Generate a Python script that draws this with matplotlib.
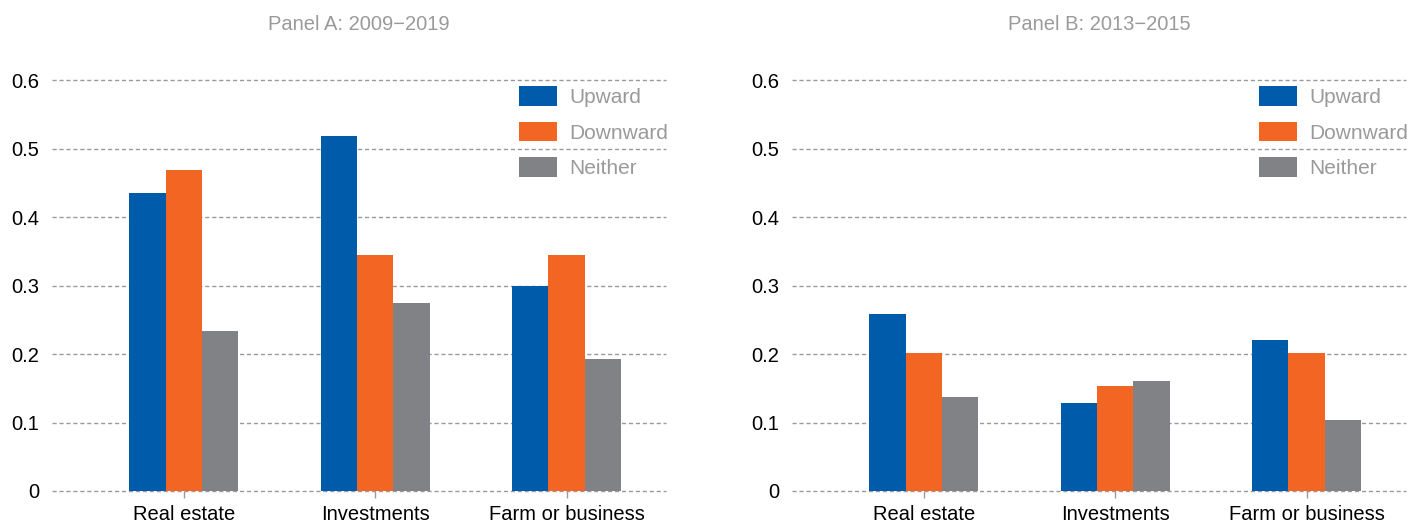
import numpy as np
import matplotlib
matplotlib.use('Agg')
import matplotlib.pyplot as plt

categories = ['Real estate', 'Investments', 'Farm or business']
series = ['Upward', 'Downward', 'Neither']
titles = ['Panel A: 2009\u22122019', 'Panel B: 2013\u22122015']

panel_a_up = [0.435, 0.518, 0.299]
panel_a_down = [0.469, 0.344, 0.344]
panel_a_neither = [0.234, 0.274, 0.193]

panel_b_up = [0.259, 0.129, 0.221]
panel_b_down = [0.201, 0.154, 0.202]
panel_b_neither = [0.137, 0.161, 0.103]

colors = ['#005baa', '#f26522', '#808285']
grid_col = '#9a9a9a'
text_gray = '#9a9a9a'

plt.rcParams['font.family'] = ['Liberation Sans', 'DejaVu Sans']
plt.rcParams['font.size'] = 14.5

px = 1 / 100
fig = plt.figure(figsize=(1412 * px, 525 * px), dpi=100)

panels = [
    (titles[0], [panel_a_up, panel_a_down, panel_a_neither], 52),
    (titles[1], [panel_b_up, panel_b_down, panel_b_neither], 792),
]

x = np.arange(len(categories))
w = 0.19

for title, data, left in panels:
    ax = fig.add_axes([left / 1412, (525 - 491) / 525, 614 / 1412, 411 / 525])
    for i, (vals, name) in enumerate(zip(data, series)):
        ax.bar(x + (i - 1) * w, vals, w, color=colors[i], label=name, zorder=3)

    ax.set_xlim(-0.69, 2.52)
    ax.set_ylim(0, 0.6)
    ax.set_yticks(np.arange(0, 0.61, 0.1))
    ax.set_yticklabels(['0', '0.1', '0.2', '0.3', '0.4', '0.5', '0.6'])
    ax.set_xticks(x)
    ax.set_xticklabels(categories)

    ax.yaxis.grid(True, color=grid_col, linestyle=(0, (3, 2)), linewidth=1)
    for gl in ax.yaxis.get_gridlines():
        gl.set_clip_on(False)
    ax.set_axisbelow(True)
    for s in ax.spines.values():
        s.set_visible(False)
    ax.tick_params(axis='y', length=0, pad=9, colors='black')
    ax.tick_params(axis='x', length=5, width=1, color=grid_col, pad=5)

    ax.set_title(title, color=text_gray, fontsize=14.5, pad=36)

    leg = ax.legend(loc='upper left', bbox_to_anchor=(0.76, 0.985), frameon=False,
                    borderaxespad=0, borderpad=0, handlelength=1.85, handleheight=1.08,
                    labelspacing=0.7, handletextpad=0.57, fontsize=15)
    for t in leg.get_texts():
        t.set_color(text_gray)

fig.savefig('out.png', dpi=100)
